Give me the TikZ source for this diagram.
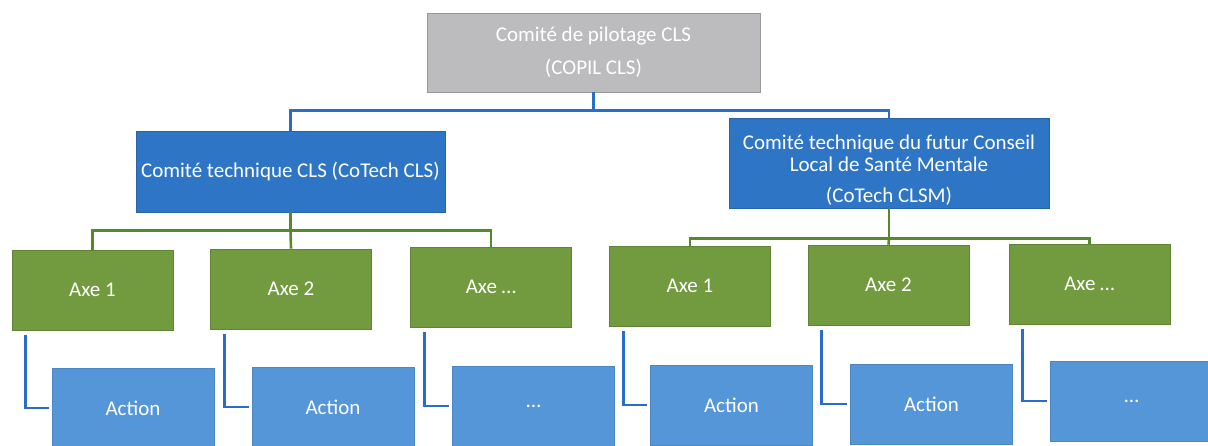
\documentclass[tikz,border=0pt]{standalone}
\usepackage{fontspec}
\setmainfont{Carlito}
\definecolor{copilgray}{RGB}{188,188,190}
\definecolor{techblue}{RGB}{46,117,198}
\definecolor{axegreen}{RGB}{114,154,62}
\definecolor{actblue}{RGB}{84,150,216}
\definecolor{lineblue}{RGB}{40,110,200}
\definecolor{linegreen}{RGB}{84,138,44}
\begin{document}
\begin{tikzpicture}[x=1pt,y=-1pt,
  boxbase/.style={rectangle,inner sep=0pt,text=white,align=center,font=\fontsize{21}{22}\selectfont},
  copilbox/.style={boxbase,fill=copilgray,draw=gray!80,line width=0.6pt,minimum width=333pt,minimum height=79pt},
  techbox/.style={boxbase,fill=techblue,draw=techblue!85!black,line width=0.6pt},
  axebox/.style={boxbase,fill=axegreen,draw=axegreen!85!black,line width=0.6pt,minimum width=161pt,minimum height=80pt},
  actbox/.style={boxbase,fill=actblue,draw=actblue!90!black,line width=0.6pt,minimum width=162pt,minimum height=80pt},
  bline/.style={draw=lineblue,line width=2.6pt},
  gline/.style={draw=linegreen,line width=2.6pt}]
\useasboundingbox (0,0) rectangle (1208,446);
\fill[white] (0,0) rectangle (1208,446);
% top
\node[copilbox] (copil) at (593.5,52.5) {Comité de pilotage CLS\\[11pt](COPIL CLS)};
\node[techbox,minimum width=309pt,minimum height=81pt] (cotech) at (290.5,171.5) {Comité technique CLS (CoTech CLS)};
\node[techbox,minimum width=320pt,minimum height=90pt] (clsm) at (889,163) {\rule{0pt}{28pt}Comité technique du futur Conseil\\Local de Santé Mentale\\[9pt](CoTech CLSM)};
% axes
\node[axebox] (a1) at (92.5,290) {Axe 1};
\node[axebox] (a2) at (291,289) {Axe 2};
\node[axebox] (a3) at (491,287) {Axe \dots};
\node[axebox] (b1) at (690,286) {Axe 1};
\node[axebox] (b2) at (888.5,285) {Axe 2};
\node[axebox] (b3) at (1089.5,284) {Axe \dots};
% actions
\node[actbox] (c1) at (133,408) {Action};
\node[actbox] (c2) at (333,407) {Action};
\node[actbox] (c3) at (533.5,406) {\dots};
\node[actbox] (d1) at (731.5,405) {Action};
\node[actbox] (d2) at (931.5,404) {Action};
\node[actbox] (d3) at (1131.5,401) {\dots};
% connectors top
\draw[bline] (copil.south) -- ++(0,18) coordinate (tj) -| (cotech.north);
\draw[bline] (tj) -| (clsm.north);
\draw[gline] (cotech.south) -- ++(0,18) coordinate (lj) -| (a1.north);
\draw[gline] (lj) -| (a3.north);
\draw[gline] (lj) -- (a2.north);
\draw[gline] (clsm.south) -- ++(0,30) coordinate (rj) -| (b1.north);
\draw[gline] (rj) -| (b3.north);
\draw[gline] (rj) -- (b2.north);
% axe to action
\foreach \a/\c in {a1/c1,a2/c2,a3/c3,b1/d1,b2/d2,b3/d3}{
  \draw[bline] ([xshift=14pt,yshift=-5pt]\a.south west) |- ([xshift=-3pt]\c.west);
}
\end{tikzpicture}
\end{document}
